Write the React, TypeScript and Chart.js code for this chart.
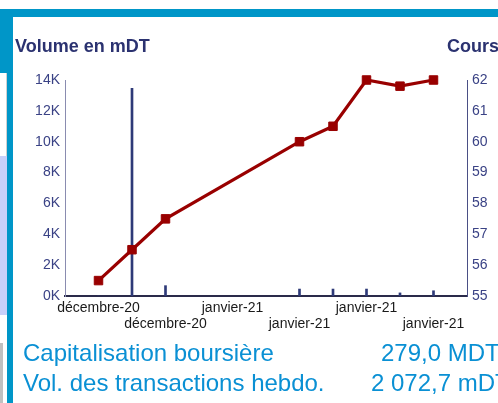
import React, { useEffect, useRef } from "react";
import { Chart, registerables } from "chart.js";

Chart.register(...registerables);

// Data
const positions = [1, 2, 3, 7, 8, 9, 10, 11];
const coursValues = [55.5, 56.5, 57.5, 60.0, 60.5, 62.0, 61.8, 62.0];
const volumeValues = [0, 13460, 670, 450, 450, 450, 200, 340];
const xLabelPositions = [1, 3, 5, 7, 9, 11];
const xLabels = ["décembre-20", "décembre-20", "janvier-21", "janvier-21", "janvier-21", "janvier-21"];
const leftTitle = "Volume en mDT";
const rightTitle = "Cours";
const statLabels = ["Capitalisation boursière", "Vol. des transactions hebdo."];
const statValues = ["279,0 MDT", "2 072,7 mDT"];

const FONT = "'Liberation Sans', Arial, sans-serif";
const BLUE = "#0096c8";

export default function App() {
  const ref = useRef<HTMLCanvasElement | null>(null);

  useEffect(() => {
    if (!ref.current) return;
    const chart = new Chart(ref.current, {
      type: "line",
      data: {
        datasets: [
          {
            type: "line",
            label: "Cours",
            data: positions.map((x, i) => ({ x, y: coursValues[i] })),
            yAxisID: "yR",
            borderColor: "#990000",
            backgroundColor: "#990000",
            borderWidth: 3.2,
            pointStyle: "rect",
            pointRadius: 6,
            pointBorderWidth: 1,
            pointBorderColor: "#990000",
            pointBackgroundColor: "#990000",
            tension: 0,
            clip: false,
            order: 0,
          } as any,
          {
            type: "bar",
            label: "Volume",
            data: positions.map((x, i) => ({ x, y: volumeValues[i] })),
            yAxisID: "yL",
            backgroundColor: "#2e3a78",
            borderWidth: 0,
            barThickness: 2,
            order: 1,
          } as any,
        ],
      },
      options: {
        responsive: false,
        animation: false,
        layout: { padding: { top: 80, left: 0, right: 0, bottom: 0 } },
        plugins: { legend: { display: false }, tooltip: { enabled: false } },
        scales: {
          x: {
            type: "linear",
            min: 0,
            max: 12,
            offset: false,
            grid: { display: false, drawTicks: false },
            border: { display: true, color: "#2a2a4a", width: 2 },
            afterFit: (s: any) => { s.height = 107; },
            afterBuildTicks: (s: any) => {
              const t = [];
              for (let v = 0; v <= 12; v++) t.push({ value: v });
              s.ticks = t;
            },
            ticks: {
              autoSkip: false,
              maxRotation: 0,
              minRotation: 0,
              padding: 4,
              color: "#1a1a1a",
              font: { family: FONT, size: 14, lineHeight: 1.15 },
              callback: (v: any) => {
                const idx = xLabelPositions.indexOf(Number(v));
                if (idx < 0) return "";
                return idx % 2 === 0 ? xLabels[idx] : ["", xLabels[idx]];
              },
            },
          },
          yL: {
            type: "linear",
            position: "left",
            min: 0,
            max: 14000,
            grid: { display: false, drawTicks: false },
            border: { display: true, color: "#8a8cb0", width: 1 },
            afterFit: (s: any) => { s.width = 65; },
            ticks: {
              stepSize: 2000,
              padding: 5,
              color: "#3a4285",
              font: { family: FONT, size: 14 },
              callback: (v: any) => `${Number(v) / 1000}K`,
            },
          },
          yR: {
            type: "linear",
            position: "right",
            min: 55,
            max: 62,
            grid: { display: false, drawTicks: false },
            border: { display: true, color: "#4a4f85", width: 1 },
            afterFit: (s: any) => { s.width = 31; },
            ticks: {
              stepSize: 1,
              padding: 5,
              color: "#3a4285",
              font: { family: FONT, size: 14 },
            },
          },
        },
      },
    });
    return () => chart.destroy();
  }, []);

  const abs = (l: number, t: number, w: number, h: number, bg: string): React.CSSProperties => ({
    position: "absolute", left: l, top: t, width: w, height: h, background: bg,
  });

  return (
    <div style={{ position: "fixed", left: 0, top: 0, width: 498, height: 403, background: "#fff", overflow: "hidden", fontFamily: FONT }}>
      <div style={abs(0, 9, 498, 8, BLUE)} />
      <div style={abs(0, 9, 13, 64, BLUE)} />
      <div style={abs(6, 73, 1, 83, "#d0d0d0")} />
      <div style={abs(0, 156, 7, 159, "#c8d0fa")} />
      <div style={abs(0, 343, 3, 60, "#c0c0c0")} />
      <div style={abs(7, 9, 6, 394, BLUE)} />
      <canvas ref={ref} width={498} height={403} style={{ position: "absolute", left: 0, top: 0, width: 498, height: 403 }} />
      <div style={{ position: "absolute", left: 15, top: 36, fontSize: 18, fontWeight: "bold", color: "#2b3270", whiteSpace: "nowrap", lineHeight: "20px" }}>{leftTitle}</div>
      <div style={{ position: "absolute", left: 447, top: 36, fontSize: 18, fontWeight: "bold", color: "#2b3270", whiteSpace: "nowrap", lineHeight: "20px" }}>{rightTitle}</div>
      <div style={{ position: "absolute", left: 23, top: 339, fontSize: 24, color: "#0a90d4", whiteSpace: "nowrap", lineHeight: "28px" }}>{statLabels[0]}</div>
      <div style={{ position: "absolute", left: 381, top: 339, fontSize: 24, color: "#0a90d4", whiteSpace: "nowrap", lineHeight: "28px" }}>{statValues[0]}</div>
      <div style={{ position: "absolute", left: 23, top: 369, fontSize: 24, color: "#0a90d4", whiteSpace: "nowrap", lineHeight: "28px" }}>{statLabels[1]}</div>
      <div style={{ position: "absolute", left: 371, top: 369, fontSize: 24, color: "#0a90d4", whiteSpace: "nowrap", lineHeight: "28px" }}>{statValues[1]}</div>
    </div>
  );
}
